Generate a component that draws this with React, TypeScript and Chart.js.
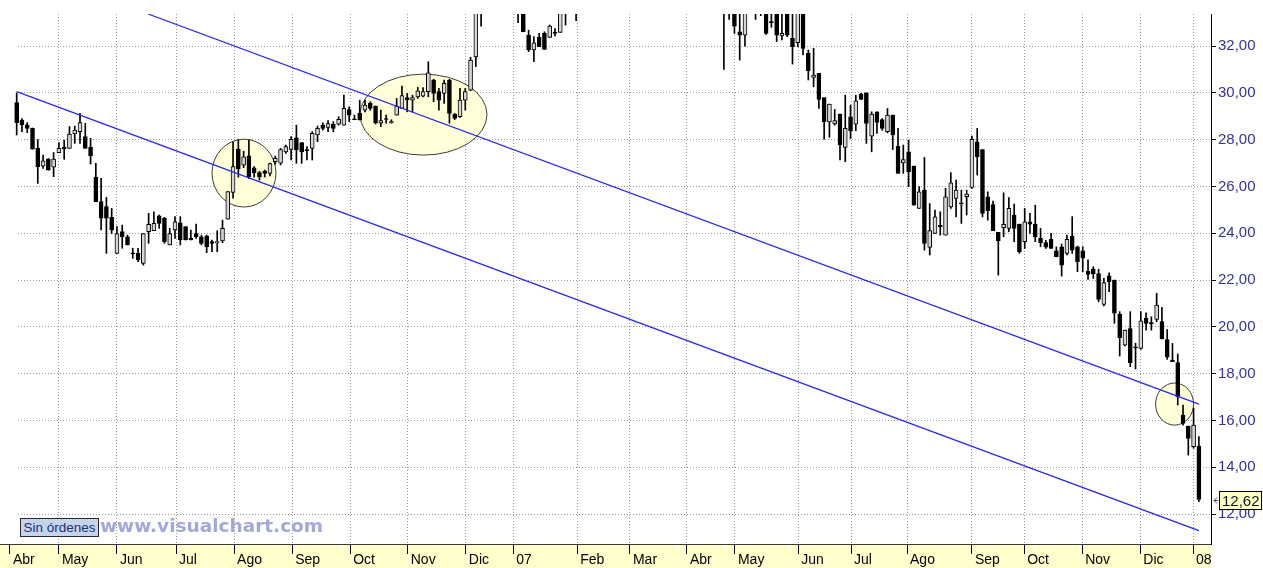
import React, { useEffect, useRef } from 'react';
import { Chart, registerables } from 'chart.js';
Chart.register(...registerables);

// ---- OHLC data (one bar per index) ----
const openP = [
  29.58, 28.84, 28.63, 28.48, 27.63, 26.87, 27.16, 26.82, 27.44, 27.68,
  27.63, 28.24, 28.34, 28.13, 27.67, 26.39, 25.35, 25.14, 24.68, 23.14,
  24.07, 23.85, 23.14, 23.14, 22.71, 24.07, 24.11, 24.74, 24.64, 23.5,
  24.14, 24.45, 24.28, 23.78, 23.99, 23.85, 23.88, 23.64, 23.6, 23.67,
  24.6, 25.75, 27.6, 26.91, 27.31, 26.8, 26.59, 26.66, 26.56, 27.06,
  26.99, 27.48, 27.58, 28.08, 27.87, 27.56, 27.63, 28.2, 28.62, 28.52,
  28.66, 28.66, 28.62, 29.29, 28.87, 29.12, 29.26, 29.55, 29.44, 28.7,
  28.88, 28.72, 29.05, 29.34, 29.8, 29.69, 29.83, 29.86, 30.05, 30.55,
  30.05, 29.98, 30.55, 29.08, 28.98, 29.69, 30.12, 31.54, 34.0, 34.5,
  34.9, 35.3, 34.7, 34.3, 34.6, 34.0, 33.7, 32.47, 31.83, 32.37,
  32.54, 32.37, 32.6, 32.58, 33.8, 34.3, 34.5, 34.9, 35.4, 35.8,
  35.5, 36.0, 36.4, 36.2, 35.6, 35.0, 35.5, 36.0, 35.7, 36.1,
  36.6, 36.9, 37.2, 36.8, 36.3, 36.5, 36.2, 35.7, 35.9, 35.5,
  35.1, 35.4, 34.9, 34.6, 34.3, 34.0, 33.9, 32.61, 32.47, 34.0,
  33.8, 33.9, 33.8, 33.02, 33.6, 32.43, 33.7, 32.33, 32.14, 33.55,
  31.69, 30.66, 30.83, 29.8, 28.76, 28.67, 29.09, 27.67, 28.98, 28.66,
  29.95, 30.0, 28.15, 29.19, 28.86, 28.34, 29.05, 27.72, 27.01, 27.48,
  26.87, 25.06, 25.84, 23.39, 23.99, 24.35, 23.92, 25.13, 25.49, 25.3,
  25.56, 25.96, 27.91, 27.58, 25.56, 25.23, 24.04, 24.24, 24.21, 24.78,
  24.39, 23.64, 24.49, 24.39, 23.78, 23.6, 23.74, 23.25, 23.42, 23.14,
  23.88, 23.42, 23.25, 22.38, 22.47, 22.28, 20.96, 22.18, 22.0, 20.55,
  19.22, 19.93, 19.15, 19.08, 20.36, 20.18, 20.32, 20.22, 19.46, 18.58,
  18.47, 16.23, 15.76, 14.88, 14.9,
];
const highP = [
  30.0, 28.9, 28.73, 28.5, 28.0, 27.34, 27.2, 27.45, 27.87, 27.98,
  28.56, 28.58, 29.13, 28.7, 28.06, 26.99, 26.35, 25.53, 25.06, 24.28,
  24.35, 23.92, 23.36, 23.36, 23.99, 24.85, 24.92, 24.78, 24.68, 24.21,
  24.71, 24.71, 24.28, 24.14, 24.39, 23.92, 23.92, 23.71, 24.11, 24.56,
  25.78, 27.9, 28.0, 27.5, 27.98, 26.85, 26.65, 26.7, 27.0, 27.3,
  27.63, 27.77, 28.13, 28.62, 27.87, 27.7, 28.34, 28.58, 28.72, 28.81,
  28.77, 28.98, 29.9, 29.4, 29.05, 29.69, 29.69, 29.62, 29.44, 29.26,
  29.05, 28.85, 29.76, 30.29, 29.98, 29.9, 30.23, 30.23, 31.33, 30.58,
  30.19, 30.55, 30.58, 29.12, 30.19, 30.19, 31.52, 34.1, 34.8, 35.2,
  35.6, 35.5, 35.1, 34.8, 34.9, 34.3, 34.0, 32.68, 32.4, 32.54,
  32.61, 32.9, 32.75, 33.8, 34.5, 34.9, 35.2, 35.6, 36.0, 36.3,
  36.1, 36.6, 36.9, 36.5, 35.9, 35.7, 36.2, 36.4, 36.3, 36.8,
  37.1, 37.4, 37.5, 37.0, 36.7, 36.9, 36.4, 36.1, 36.2, 35.8,
  35.6, 35.7, 35.2, 35.0, 34.8, 34.9, 34.4, 33.6, 33.9, 34.6,
  34.1, 34.4, 34.0, 33.5, 33.8, 33.5, 33.9, 33.5, 33.8, 33.8,
  31.83, 31.9, 30.83, 29.8, 29.52, 29.29, 29.09, 29.9, 29.48, 29.9,
  29.98, 30.0, 29.19, 29.19, 28.9, 29.33, 29.05, 28.48, 27.77, 27.98,
  26.87, 25.99, 27.24, 25.27, 24.99, 24.92, 25.92, 26.59, 26.27, 25.84,
  25.84, 28.15, 28.48, 27.58, 25.77, 25.38, 24.04, 25.73, 25.52, 25.25,
  24.39, 25.06, 24.85, 25.2, 24.21, 23.7, 24.0, 23.42, 23.54, 23.92,
  24.71, 23.45, 23.42, 22.86, 22.57, 22.46, 22.07, 22.31, 22.0, 20.65,
  19.86, 20.65, 19.3, 20.65, 20.6, 20.43, 21.43, 20.83, 19.89, 19.29,
  18.84, 16.66, 15.76, 16.52, 15.31,
];
const lowP = [
  28.2, 28.34, 28.3, 27.59, 26.13, 26.77, 26.7, 26.42, 27.44, 27.16,
  27.63, 27.84, 27.84, 27.63, 26.96, 25.35, 24.14, 23.14, 23.99, 23.14,
  23.36, 23.5, 22.93, 22.79, 22.64, 23.57, 24.11, 24.21, 23.57, 23.5,
  23.78, 23.5, 23.71, 23.71, 23.78, 23.5, 23.17, 23.21, 23.21, 23.6,
  24.6, 25.5, 26.4, 26.8, 26.33, 26.4, 26.27, 26.4, 26.45, 26.95,
  26.92, 27.41, 27.13, 26.99, 26.99, 27.13, 27.13, 27.91, 28.41, 28.34,
  28.34, 28.62, 28.62, 28.77, 28.85, 28.84, 29.19, 29.26, 28.67, 28.55,
  28.7, 28.7, 29.05, 29.34, 29.19, 29.19, 29.76, 29.83, 29.83, 29.62,
  29.26, 29.55, 28.7, 28.86, 28.95, 29.26, 30.09, 31.12, 32.85, 34.1,
  34.6, 34.4, 34.0, 33.8, 33.9, 33.0, 32.61, 31.76, 31.33, 31.97,
  31.86, 32.37, 32.43, 32.58, 32.9, 33.9, 33.08, 34.6, 35.1, 35.3,
  35.2, 35.7, 36.0, 35.4, 34.8, 34.6, 35.3, 35.5, 35.4, 35.9,
  36.2, 36.5, 36.6, 36.1, 35.8, 36.0, 35.5, 35.2, 35.3, 34.8,
  34.7, 34.6, 34.2, 34.0, 31.0, 33.14, 32.54, 31.4, 32.0, 33.6,
  33.14, 33.3, 32.5, 32.8, 32.19, 32.26, 32.4, 31.23, 31.97, 31.62,
  30.55, 30.26, 29.33, 28.02, 28.1, 28.62, 27.13, 27.06, 28.05, 28.38,
  29.72, 27.84, 27.48, 28.27, 28.4, 28.29, 27.58, 26.56, 26.56, 25.99,
  25.2, 25.06, 23.28, 23.07, 23.99, 23.92, 23.92, 25.06, 24.7, 24.42,
  24.78, 25.92, 26.49, 24.7, 24.56, 24.11, 22.21, 23.85, 24.07, 23.64,
  23.14, 23.35, 23.99, 23.64, 23.42, 23.35, 23.35, 22.99, 22.17, 23.07,
  23.14, 22.36, 22.36, 22.03, 22.07, 21.07, 20.89, 21.5, 20.15, 18.75,
  19.18, 18.3, 18.2, 19.04, 19.86, 19.86, 20.22, 19.48, 18.61, 18.51,
  16.66, 15.8, 14.52, 14.81, 12.53,
];
const closeP = [
  28.73, 28.63, 28.48, 27.59, 26.85, 27.09, 26.7, 27.17, 27.63, 27.6,
  28.24, 28.41, 28.73, 27.63, 27.3, 25.35, 24.64, 24.64, 24.14, 23.99,
  23.85, 23.5, 23.12, 22.86, 23.99, 24.38, 24.42, 24.42, 23.64, 23.99,
  24.49, 23.71, 23.71, 23.71, 23.85, 23.57, 23.43, 23.57, 23.62, 24.21,
  25.78, 26.85, 26.75, 27.27, 26.41, 26.58, 26.41, 26.56, 26.98, 27.2,
  27.58, 27.7, 28.01, 27.56, 27.48, 27.53, 28.27, 28.48, 28.48, 28.69,
  28.48, 28.87, 29.34, 29.05, 28.85, 28.84, 29.48, 29.34, 28.72, 28.81,
  28.86, 28.77, 29.44, 29.88, 29.7, 29.8, 30.09, 30.05, 30.86, 29.98,
  29.69, 30.41, 29.12, 28.91, 29.69, 30.05, 31.4, 33.9, 34.5, 34.9,
  35.3, 34.7, 34.3, 34.6, 34.1, 33.7, 32.61, 31.83, 32.14, 31.97,
  31.86, 32.85, 32.54, 33.5, 34.2, 34.6, 34.9, 35.4, 35.8, 35.5,
  36.0, 36.4, 36.2, 35.6, 35.0, 35.5, 36.0, 35.7, 36.1, 36.6,
  36.9, 37.2, 36.8, 36.3, 36.5, 36.2, 35.7, 35.9, 35.5, 35.1,
  35.4, 34.9, 34.6, 34.3, 34.0, 34.5, 32.85, 32.47, 33.6, 34.3,
  33.6, 34.1, 32.54, 33.0, 32.47, 32.54, 32.47, 31.97, 33.5, 31.9,
  30.95, 30.76, 29.72, 28.76, 29.52, 28.81, 27.77, 28.48, 28.37, 29.66,
  29.72, 28.69, 29.09, 28.74, 28.48, 29.05, 28.2, 26.56, 27.15, 26.63,
  25.2, 25.77, 23.57, 24.11, 24.7, 24.28, 25.56, 26.16, 25.84, 25.25,
  25.67, 28.01, 27.27, 24.85, 24.96, 24.11, 23.68, 24.38, 25.06, 24.21,
  23.21, 24.49, 24.39, 23.85, 23.6, 23.4, 23.35, 23.0, 22.64, 23.74,
  23.28, 22.78, 22.93, 22.24, 22.26, 21.17, 21.89, 21.93, 20.58, 19.54,
  19.86, 18.47, 19.1, 20.26, 20.15, 20.12, 20.93, 19.48, 18.7, 18.51,
  17.01, 15.87, 15.23, 15.8, 12.62,
];

// ---- axis labels ----
const monthLabels = [
  'Abr', 'May', 'Jun', 'Jul', 'Ago', 'Sep', 'Oct', 'Nov', 'Dic', '07', 'Feb',
  'Mar', 'Abr', 'May', 'Jun', 'Jul', 'Ago', 'Sep', 'Oct', 'Nov', 'Dic', '08',
];
const monthTickBars = [
  -1.27, 8, 19, 30.2, 41.2, 52.2, 63.2, 74.1, 85.1, 94.1, 106.2,
  116.2, 127, 136.1, 148.1, 158.1, 168.7, 181, 190.9, 201.9, 212.9, 222.9,
];
const priceTicks = [12, 14, 16, 18, 20, 22, 24, 26, 28, 30, 32];

// ---- drawn channel lines (bar index, price) ----
const channelUpper = [
  { x: 24.9, y: 33.37 },
  { x: 224, y: 16.7 },
];
const channelLower = [
  { x: 0, y: 30.05 },
  { x: 224, y: 11.29 },
];

// ---- highlight ellipses (centre bar/price, radius in bars/price) ----
const highlights = [
  { cx: 43.07, cy: 26.57, rx: 6.06, ry: 1.45 },
  { cx: 77.09, cy: 29.07, rx: 12.03, ry: 1.73 },
  { cx: 219.4, cy: 16.7, rx: 3.6, ry: 0.9 },
];

const FONT = '"Liberation Sans", Arial, Helvetica, sans-serif';

const ellipsePlugin = {
  id: 'highlightEllipses',
  beforeDatasetsDraw(chart: any) {
    const { ctx, chartArea } = chart;
    const xs = chart.scales.x;
    const ys = chart.scales.y;
    ctx.save();
    // grid of the price pane begins at the first bar
    ctx.fillStyle = '#ffffff';
    ctx.fillRect(chartArea.left, chartArea.top, Math.floor(xs.getPixelForValue(0)), chartArea.bottom - chartArea.top);
    ctx.beginPath();
    ctx.rect(chartArea.left, chartArea.top, chartArea.right - chartArea.left, chartArea.bottom - chartArea.top);
    ctx.clip();
    for (const h of highlights) {
      const px = xs.getPixelForValue(h.cx);
      const py = ys.getPixelForValue(h.cy);
      const rx = Math.abs(xs.getPixelForValue(h.cx + h.rx) - px);
      const ry = Math.abs(ys.getPixelForValue(h.cy + h.ry) - py);
      ctx.beginPath();
      ctx.ellipse(px, py, rx, ry, 0, 0, Math.PI * 2);
      ctx.fillStyle = '#FFFFD8';
      ctx.fill();
      ctx.lineWidth = 1;
      ctx.strokeStyle = '#3c3c3c';
      ctx.stroke();
    }
    ctx.restore();
  },
};

const lastPricePlugin = {
  id: 'lastPrice',
  afterDraw(chart: any) {
    const { ctx, chartArea } = chart;
    const ys = chart.scales.y;
    const last = closeP[closeP.length - 1];
    const py = Math.round(ys.getPixelForValue(last)) + 0.5;
    const left = chartArea.right + 8;
    ctx.save();
    ctx.strokeStyle = '#444';
    ctx.lineWidth = 1;
    ctx.beginPath();
    ctx.moveTo(chartArea.right + 6, py - 3);
    ctx.lineTo(chartArea.right + 3, py);
    ctx.lineTo(chartArea.right + 6, py + 3);
    ctx.moveTo(chartArea.right + 3, py);
    ctx.lineTo(chartArea.right + 7, py);
    ctx.stroke();
    ctx.fillStyle = '#FFFFC0';
    ctx.fillRect(left, py - 9.5, 43, 19);
    ctx.strokeStyle = '#000';
    ctx.strokeRect(left + 0.5, py - 9, 42, 18);
    ctx.fillStyle = '#111133';
    ctx.font = '15px ' + FONT;
    ctx.textBaseline = 'middle';
    ctx.textAlign = 'left';
    ctx.fillText(last.toFixed(2).replace('.', ','), left + 3, py + 1);
    ctx.restore();
  },
};

export default function App() {
  const ref = useRef<HTMLCanvasElement>(null);

  useEffect(() => {
    const idx = openP.map((_, i) => i);
    const bodies = idx.map((i) => ({ x: i, y: [openP[i], closeP[i]] }));
    const wicks = idx.map((i) => ({ x: i, y: [lowP[i], highP[i]] }));
    const bodyColors = idx.map((i) => (closeP[i] >= openP[i] ? '#d6d6d6' : '#000000'));

    const chart = new Chart(ref.current as HTMLCanvasElement, {
      type: 'bar',
      data: {
        datasets: [
          {
            type: 'line',
            data: channelUpper,
            borderColor: '#2424ff',
            borderWidth: 1.2,
            pointRadius: 0,
            fill: false,
            tension: 0,
            clip: 0,
            order: 0,
          } as any,
          {
            type: 'line',
            data: channelLower,
            borderColor: '#2424ff',
            borderWidth: 1.2,
            pointRadius: 0,
            fill: false,
            tension: 0,
            clip: 0,
            order: 0,
          } as any,
          {
            type: 'bar',
            data: bodies,
            backgroundColor: bodyColors,
            borderColor: '#000000',
            borderWidth: 1,
            borderSkipped: false,
            barThickness: 4,
            minBarLength: 1,
            grouped: false,
            clip: 0,
            order: 1,
          } as any,
          {
            type: 'bar',
            data: wicks,
            backgroundColor: '#000000',
            borderWidth: 0,
            barThickness: 1,
            grouped: false,
            clip: 0,
            order: 2,
          } as any,
        ],
      },
      options: {
        responsive: false,
        devicePixelRatio: 1,
        animation: false,
        layout: { padding: { top: 14, left: 0, right: 0, bottom: 0 } },
        plugins: { legend: { display: false }, tooltip: { enabled: false } },
        scales: {
          x: {
            type: 'linear',
            min: -3.16,
            max: 226.3,
            offset: false,
            backgroundColor: '#FFFFCC',
            afterBuildTicks: (s: any) => {
              s.ticks = monthTickBars.map((v) => ({ value: v }));
            },
            afterFit: (s: any) => {
              s.height = 24;
            },
            grid: {
              offset: false,
              color: '#9a9a9a',
              lineWidth: 1,
              drawTicks: true,
              tickLength: 10,
              tickColor: '#000000',
              tickWidth: 1,
              tickBorderDash: [],
            },
            border: { display: true, color: '#3a3a3a', width: 1, dash: [1, 2] },
            ticks: {
              autoSkip: false,
              maxRotation: 0,
              minRotation: 0,
              align: 'start',
              labelOffset: 3,
              padding: -2,
              color: '#000000',
              font: { family: FONT, size: 14 },
              callback: (_v: any, i: number) => monthLabels[i],
            },
          },
          y: {
            type: 'linear',
            position: 'right',
            min: 10.72,
            max: 33.37,
            afterBuildTicks: (s: any) => {
              s.ticks = priceTicks.map((v) => ({ value: v }));
            },
            afterFit: (s: any) => {
              s.width = 52;
            },
            grid: {
              color: '#9a9a9a',
              lineWidth: 1,
              drawTicks: true,
              tickLength: 5,
              tickColor: '#000000',
              tickWidth: 1,
              tickBorderDash: [],
            },
            border: { display: true, color: '#000000', width: 1, dash: [1, 2] },
            ticks: {
              padding: 2,
              color: '#333399',
              font: { family: FONT, size: 15 },
              callback: (v: any) => Number(v).toFixed(2).replace('.', ','),
            },
          },
        },
      } as any,
      plugins: [ellipsePlugin, lastPricePlugin],
    });
    return () => chart.destroy();
  }, []);

  return (
    <div style={{ position: 'fixed', left: 0, top: 0, width: 1263, height: 568, background: '#ffffff' }}>
      <canvas ref={ref} width={1263} height={568} style={{ display: 'block', width: 1263, height: 568 }} />
      <div
        style={{
          position: 'absolute',
          left: 20,
          top: 518,
          width: 79,
          height: 19,
          boxSizing: 'border-box',
          border: '1px solid #2a2a2a',
          background: '#c6d3ee',
          color: '#1b2f6e',
          font: '13.5px ' + FONT,
          lineHeight: '17px',
          textAlign: 'center',
          whiteSpace: 'nowrap',
          overflow: 'hidden',
        }}
      >
        Sin órdenes
      </div>
      <div
        style={{
          position: 'absolute',
          left: 100,
          top: 516,
          font: 'bold 18.5px "DejaVu Sans", Verdana, sans-serif',
          color: '#a4a8d8',
          whiteSpace: 'nowrap',
          lineHeight: '20px',
        }}
      >
        www.visualchart.com
      </div>
    </div>
  );
}
